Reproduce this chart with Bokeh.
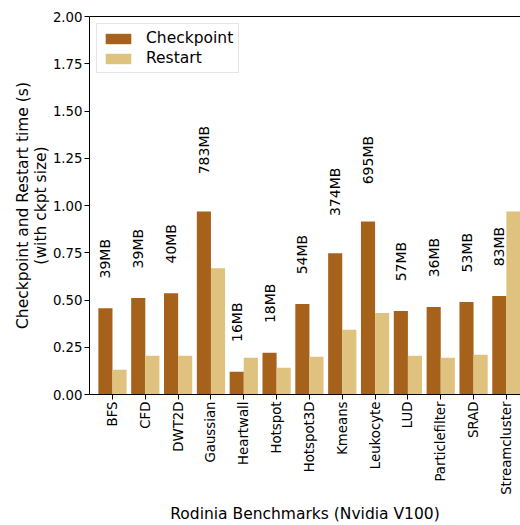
import math
from bokeh.plotting import figure
from bokeh.models import (Range1d, FixedTicker, LinearAxis, ColumnDataSource,
                          NumeralTickFormatter)
from bokeh.embed import file_html
from bokeh.resources import INLINE
from bokeh.core.properties import value

benchmarks = ["BFS", "CFD", "DWT2D", "Gaussian", "Heartwall", "Hotspot", "Hotspot3D",
              "Kmeans", "Leukocyte", "LUD", "Particlefilter", "SRAD", "Streamcluster"]
checkpoint = [0.457, 0.510, 0.536, 0.968, 0.121, 0.221, 0.479, 0.747, 0.915, 0.442, 0.463, 0.489, 0.521]
restart = [0.131, 0.205, 0.205, 0.668, 0.195, 0.142, 0.200, 0.342, 0.431, 0.205, 0.195, 0.210, 0.968]
ckpt_sizes = ["39MB", "39MB", "40MB", "783MB", "16MB", "18MB", "54MB", "374MB", "695MB",
              "57MB", "36MB", "53MB", "83MB"]
y_ticks = [0.0, 0.25, 0.5, 0.75, 1.0, 1.25, 1.5, 1.75, 2.0]

FONT = "DejaVu Sans"
C_CKPT = "#a6611a"
C_REST = "#dfc27d"
W = 0.43

xs = list(range(len(benchmarks)))
src = ColumnDataSource(dict(
    x_ck=[x - W / 2 for x in xs],
    x_rs=[x + W / 2 for x in xs],
    ck=checkpoint,
    rs=restart,
    lab=ckpt_sizes,
    lab_y=[c + 0.077 + 0.04 * (len(s) - 2) for c, s in zip(checkpoint, ckpt_sizes)],
))

p = figure(width=520, height=525, output_backend="svg", toolbar_location=None,
           x_range=Range1d(-0.7, 12.43), y_range=Range1d(0, 2.0),
           min_border_left=89, min_border_right=0, min_border_top=16, min_border_bottom=129)

p.vbar(x="x_ck", top="ck", width=W, source=src, color=C_CKPT, line_color=None,
       legend_label="Checkpoint")
p.vbar(x="x_rs", top="rs", width=W, source=src, color=C_REST, line_color=None,
       legend_label="Restart")

p.text(x="x_ck", y="lab_y", text="lab", source=src, angle=math.pi / 2,
       text_align="left", text_baseline="middle", text_font=value(FONT),
       text_font_size="14px", text_color="black")

p.xgrid.visible = False
p.ygrid.visible = False
p.outline_line_color = None
p.background_fill_color = "white"
p.border_fill_color = "white"

xa = p.xaxis[0]
xa.ticker = FixedTicker(ticks=xs)
xa.major_label_overrides = {i: b for i, b in enumerate(benchmarks)}
xa.major_label_orientation = math.pi / 2
xa.axis_label = "Rodinia Benchmarks (Nvidia V100)"

ya = p.yaxis[0]
ya.ticker = FixedTicker(ticks=y_ticks)
ya.formatter = NumeralTickFormatter(format="0.00")
ya.axis_label = "Checkpoint and Restart time (s)\n(with ckpt size)"

for ax in (xa, ya):
    ax.minor_tick_line_color = None
    ax.major_tick_in = 0
    ax.major_tick_out = 5
    ax.major_tick_line_color = "black"
    ax.axis_line_color = "black"
    ax.major_label_text_font = FONT
    ax.major_label_text_font_size = "13.3px"
    ax.major_label_text_color = "black"
    ax.major_label_standoff = 2
    ax.axis_label_text_font = FONT
    ax.axis_label_text_font_size = "15.5px"
    ax.axis_label_text_font_style = "normal"
    ax.axis_label_text_color = "black"
    ax.axis_label_text_line_height = 1.0
    ax.axis_label_standoff = 7
ya.axis_label_standoff = 0

top = LinearAxis(ticker=FixedTicker(ticks=[]), major_label_text_font_size="0px",
                 major_tick_out=0, major_tick_in=0, minor_tick_out=0, minor_tick_in=0,
                 axis_line_color="black")
p.add_layout(top, "above")

lg = p.legend[0]
lg.location = "top_left"
lg.margin = 7
lg.padding = 5
lg.spacing = 2
lg.glyph_width = 32
lg.glyph_height = 13
lg.label_standoff = 12
lg.label_text_font = FONT
lg.label_text_font_size = "15.5px"
lg.label_text_color = "black"
lg.border_line_color = "#cccccc"
lg.background_fill_alpha = 0.85

open("out.html", "w").write(file_html(p, INLINE))
